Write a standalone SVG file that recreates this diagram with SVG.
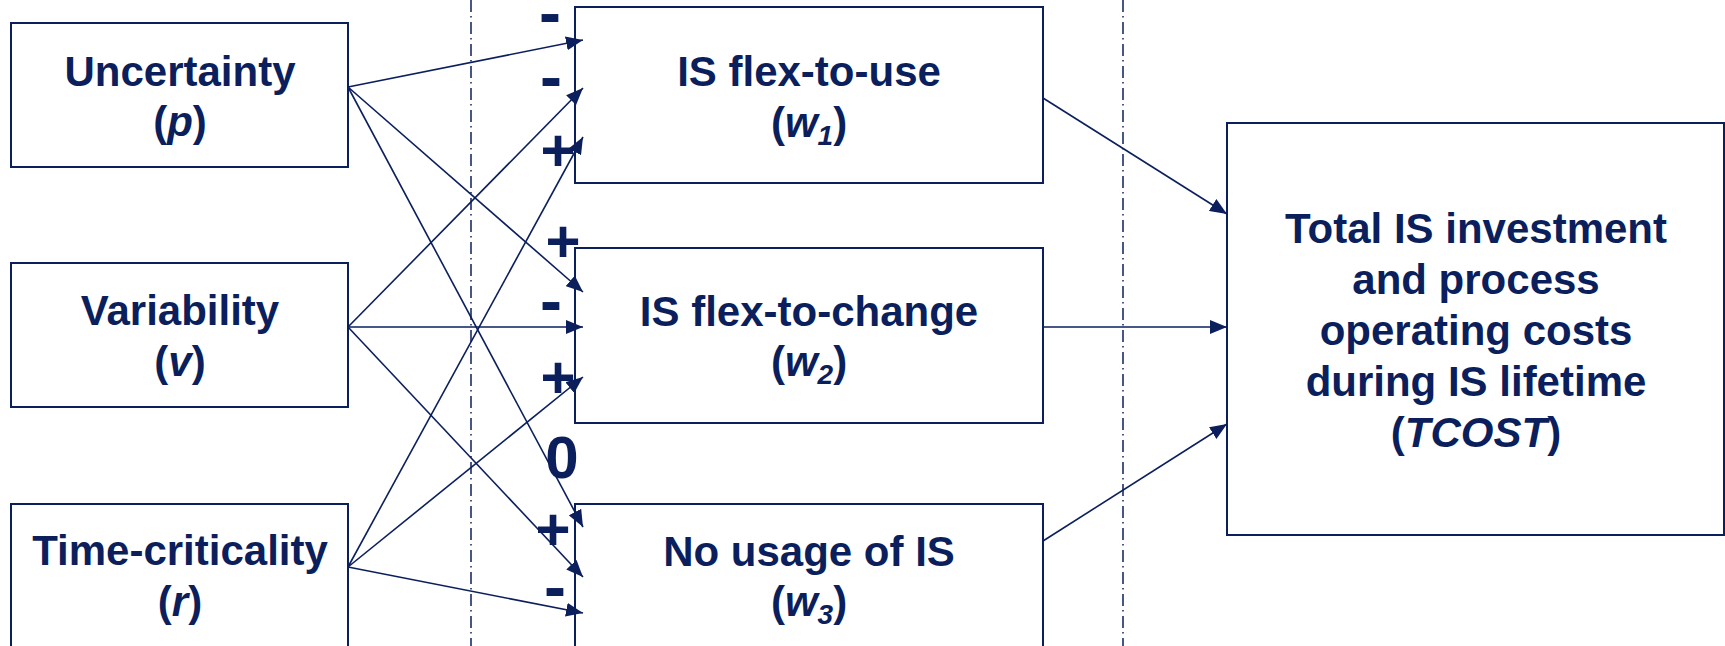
<svg xmlns="http://www.w3.org/2000/svg" width="1725" height="646" viewBox="0 0 1725 646">
  <style>
    .box { fill: #ffffff; stroke: #0b1f5c; stroke-width: 2; }
    .lbl { font-family: "Liberation Sans", Arial, sans-serif; font-weight: bold; font-size: 42px; fill: #0b1f5c; text-anchor: middle; }
    .sub { font-size: 28px; }
    .sign { font-family: "Liberation Sans", Arial, sans-serif; font-weight: bold; font-size: 60px; fill: #0b1f5c; text-anchor: middle; }
    .minus { font-size: 66px; }
    .link { stroke: #0b1f5c; stroke-width: 1.6; fill: none; marker-end: url(#ah); }
    .divider { stroke: #0b1f5c; stroke-width: 1.5; stroke-dasharray: 12 4 1.5 4.5; }
  </style>
  <defs>
    <marker id="ah" markerUnits="userSpaceOnUse" markerWidth="18" markerHeight="14" refX="17" refY="7" orient="auto">
      <path d="M0,0 L17,7 L0,14 z" fill="#0b1f5c"/>
    </marker>
  </defs>

  <rect width="1725" height="646" fill="#ffffff"/>

  <!-- dash-dot column dividers -->
  <g id="dividers">
    <line class="divider" x1="471" y1="0" x2="471" y2="646"/>
    <line class="divider" x1="1123" y1="0" x2="1123" y2="646"/>
  </g>

  <!-- drivers -->
  <g id="node-uncertainty">
    <rect class="box" x="11" y="23" width="337" height="144"/>
    <text class="lbl" x="180" y="86">Uncertainty</text>
    <text class="lbl" x="180" y="136">(<tspan font-style="italic">p</tspan>)</text>
  </g>
  <g id="node-variability">
    <rect class="box" x="11" y="263" width="337" height="144"/>
    <text class="lbl" x="180" y="325">Variability</text>
    <text class="lbl" x="180" y="376">(<tspan font-style="italic">v</tspan>)</text>
  </g>
  <g id="node-timecriticality">
    <rect class="box" x="11" y="504" width="337" height="176"/>
    <text class="lbl" x="180" y="565">Time-criticality</text>
    <text class="lbl" x="180" y="616">(<tspan font-style="italic">r</tspan>)</text>
  </g>

  <!-- IS options -->
  <g id="node-flex-use">
    <rect class="box" x="575" y="7" width="468" height="176"/>
    <text class="lbl" x="809" y="86">IS flex-to-use</text>
    <text class="lbl" x="809" y="137">(<tspan font-style="italic">w<tspan class="sub" dy="8">1</tspan></tspan><tspan dy="-8">)</tspan></text>
  </g>
  <g id="node-flex-change">
    <rect class="box" x="575" y="248" width="468" height="175"/>
    <text class="lbl" x="809" y="326">IS flex-to-change</text>
    <text class="lbl" x="809" y="376">(<tspan font-style="italic">w<tspan class="sub" dy="8">2</tspan></tspan><tspan dy="-8">)</tspan></text>
  </g>
  <g id="node-no-usage">
    <rect class="box" x="575" y="504" width="468" height="176"/>
    <text class="lbl" x="809" y="566">No usage of IS</text>
    <text class="lbl" x="809" y="616">(<tspan font-style="italic">w<tspan class="sub" dy="8">3</tspan></tspan><tspan dy="-8">)</tspan></text>
  </g>

  <!-- outcome -->
  <g id="node-tcost">
    <rect class="box" x="1227" y="123" width="497" height="412"/>
    <text class="lbl" x="1476" y="243">Total IS investment</text>
    <text class="lbl" x="1476" y="294">and process</text>
    <text class="lbl" x="1476" y="345">operating costs</text>
    <text class="lbl" x="1476" y="396">during IS lifetime</text>
    <text class="lbl" x="1476" y="447">(<tspan font-style="italic">TCOST</tspan>)</text>
  </g>

  <!-- connectors -->
  <g id="connectors">
    <line class="link" x1="348" y1="87" x2="583" y2="40"/>
    <line class="link" x1="348" y1="87" x2="583" y2="292"/>
    <line class="link" x1="348" y1="87" x2="583" y2="527"/>
    <line class="link" x1="348" y1="327" x2="583" y2="88"/>
    <line class="link" x1="348" y1="327" x2="583" y2="327"/>
    <line class="link" x1="348" y1="327" x2="583" y2="577"/>
    <line class="link" x1="348" y1="567" x2="583" y2="137"/>
    <line class="link" x1="348" y1="567" x2="583" y2="377"/>
    <line class="link" x1="348" y1="567" x2="583" y2="613"/>
    <line class="link" x1="1043" y1="98" x2="1227" y2="214"/>
    <line class="link" x1="1043" y1="327" x2="1227" y2="327"/>
    <line class="link" x1="1043" y1="541" x2="1227" y2="424"/>
  </g>

  <!-- effect signs -->
  <g id="signs">
    <text class="sign minus" x="550" y="35">-</text>
    <text class="sign minus" x="551" y="99">-</text>
    <text class="sign" x="558" y="171">+</text>
    <text class="sign" x="563" y="262">+</text>
    <text class="sign minus" x="551" y="323">-</text>
    <text class="sign" x="558" y="398">+</text>
    <text class="sign" x="562" y="478">0</text>
    <text class="sign" x="553" y="550">+</text>
    <text class="sign minus" x="555" y="609">-</text>
  </g>
</svg>
